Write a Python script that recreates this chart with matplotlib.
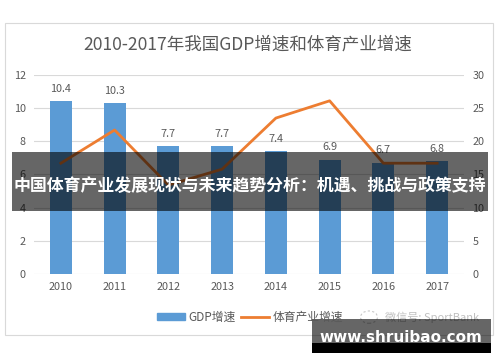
import matplotlib.pyplot as plt
from matplotlib.patches import Rectangle, Circle
from matplotlib.lines import Line2D
from matplotlib.patches import Patch

plt.rcParams['font.family'] = ['Noto Sans CJK SC', 'DejaVu Sans']

years = ["2010", "2011", "2012", "2013", "2014", "2015", "2016", "2017"]
gdp_growth = [10.4, 10.3, 7.7, 7.7, 7.4, 6.9, 6.7, 6.8]
sport_growth = [16.7, 21.7, 13.4, 15.8, 23.5, 26.1, 16.7, 16.7]

title = "2010-2017年我国GDP增速和体育产业增速"
banner = "中国体育产业发展现状与未来趋势分析：机遇、挑战与政策支持"

blue = "#5B9BD5"
orange = "#ED7D31"
grey_txt = "#595959"

fig = plt.figure(figsize=(5, 3.62), dpi=100)
fig.patch.set_facecolor("white")

# chart border
fig.patches.append(Rectangle((0.01, 0.075), 0.976, 0.861, transform=fig.transFigure,
                             fill=False, edgecolor="#D9D9D9", linewidth=0.8))

ax = fig.add_axes([0.068, 0.243, 0.86, 0.55])
x = range(len(years))
ax.bar(x, gdp_growth, width=0.41, color=blue, zorder=2)
for xi, v in zip(x, gdp_growth):
    ax.text(xi, v + 0.45, f"{v}", ha="center", va="bottom", fontsize=7.8, color=grey_txt)

ax.set_xlim(-0.5, len(years) - 0.5)
ax.set_ylim(0, 12)
ax.set_yticks(range(0, 13, 2))
ax.set_xticks(list(x))
ax.set_xticklabels(years)
ax.grid(axis="y", color="#D9D9D9", linewidth=0.8, zorder=0)
ax.set_axisbelow(True)
for s in ax.spines.values():
    s.set_visible(False)
ax.tick_params(length=0, labelsize=7.8, labelcolor=grey_txt, pad=6)

ax2 = ax.twinx()
ax2.plot(x, sport_growth, color=orange, linewidth=2, zorder=3)
ax2.set_ylim(0, 30)
ax2.set_yticks(range(0, 31, 5))
for s in ax2.spines.values():
    s.set_visible(False)
ax2.tick_params(length=0, labelsize=7.8, labelcolor=grey_txt, pad=6)

fig.text(0.496, 0.876, title, ha="center", va="center", fontsize=12.6, color=grey_txt)

# legend
handles = [Patch(color=blue, label="GDP增速"), Line2D([], [], color=orange, lw=2, label="体育产业增速")]
fig.legend(handles=handles, loc="center", bbox_to_anchor=(0.5, 0.124), ncol=2, frameon=False,
           fontsize=8.5, labelcolor=grey_txt, handlelength=2.4, handleheight=0.6,
           columnspacing=0.4, handletextpad=0.3)

# faded watermark
fig.patches.append(Circle((0.738, 0.124), 0.017, transform=fig.transFigure, fill=False,
                          edgecolor="#C8C8C8", linewidth=0.8, linestyle=(0, (2, 2))))
fig.text(0.77, 0.124, "微信号: SportBank", ha="left", va="center", fontsize=8, color="#C0C0C0")

# overlay banner
fig.patches.append(Rectangle((0.024, 0.417), 0.952, 0.163, transform=fig.transFigure,
                             facecolor="black", alpha=0.6, edgecolor="none", zorder=5))
fig.text(0.5, 0.486, banner, ha="center", va="center", fontsize=12.2, fontweight="bold",
         color="white", zorder=6)

# site watermark box
fig.patches.append(Rectangle((0.624, 0.0525), 0.358, 0.0665, transform=fig.transFigure,
                             facecolor="black", alpha=0.6, edgecolor="none", zorder=5))
fig.patches.append(Rectangle((0.624, 0.0249), 0.358, 0.0276, transform=fig.transFigure,
                             facecolor="black", edgecolor="none", zorder=5))
fig.text(0.802, 0.069, "www.shruibao.com", ha="center", va="center", fontsize=11,
         fontweight="bold", color="white", family="DejaVu Sans", zorder=6)

fig.savefig("out.png", dpi=100)
